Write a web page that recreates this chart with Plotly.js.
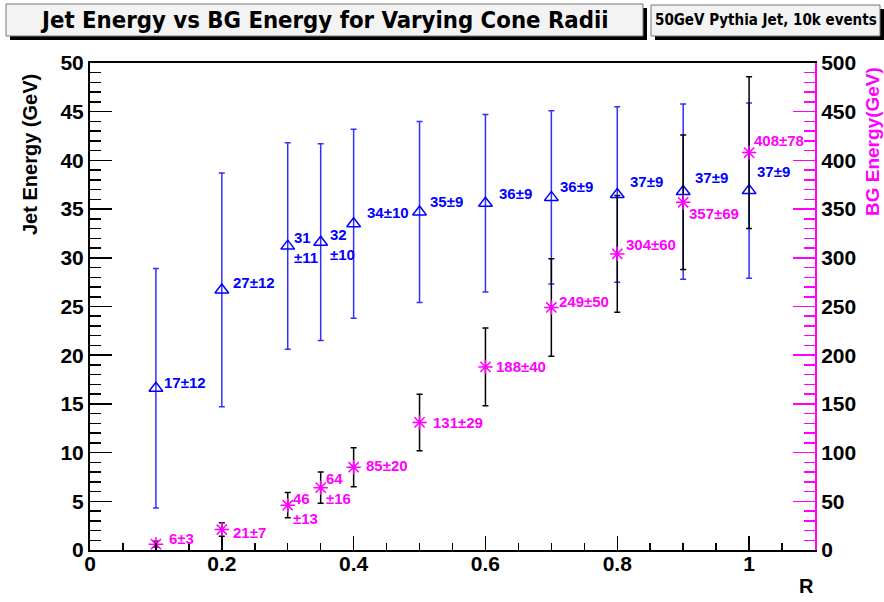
<!DOCTYPE html>
<html><head><meta charset="utf-8">
<script src="https://cdn.plot.ly/plotly-3.0.1.min.js"></script>
<style>html,body{margin:0;padding:0;background:#fff}</style>
</head><body><div id="chart" style="width:884px;height:602px"></div>
<script>
// ---- data ----
const R = [0.1, 0.2, 0.3, 0.35, 0.4, 0.5, 0.6, 0.7, 0.8, 0.9, 1.0];
const jetEnergy = [16.6, 26.7, 31.2, 31.6, 33.5, 34.7, 35.6, 36.2, 36.5, 36.8, 36.9];
const jetErr = [12.3, 12.0, 10.6, 10.1, 9.7, 9.3, 9.1, 8.9, 9.0, 9.0, 9.0];
const bgEnergy = [6, 21, 46, 64, 85, 131, 188, 249, 304, 357, 408];
const bgErr = [3, 7, 13, 16, 20, 29, 40, 50, 60, 69, 78];
const jetLabels = ["17±12", "27±12", "31<br>±11", "32<br>±10", "34±10", "35±9", "36±9", "36±9", "37±9", "37±9", "37±9"];
const bgLabels = ["6±3", "21±7", "46<br>±13", "64<br>±16", "85±20", "131±29", "188±40", "249±50", "304±60", "357±69", "408±78"];
const titleText = "Jet Energy vs BG Energy for Varying Cone Radii";
const subTitleText = "50GeV Pythia Jet, 10k events";

// ---- label offsets (px: right, down) ----
const jetOff = [[6,-6],[9,-7],[4,1],[7,2],[11,-11],[8,-11],[12,-10],[7,-11],[11,-13],[10,-14],[6,-19]];
const bgOff = [[11,-6],[9,3],[3,3],[3,1],[10,-2],[11,0],[9,0],[6,-6],[7,-9],[4,11],[3,-12]];

// ---- geometry ----
const W = 884, H = 602, ML = 90, MR = 69, MT = 63, MB = 52;
const PW = W - ML - MR, PH = H - MT - MB;
const fx = p => (p - ML) / PW;
const fy = p => (H - MB - p) / PH;

const FONT = "Liberation Sans, Arial, Helvetica, sans-serif";
const NARROW = "Liberation Sans Narrow, Arial Narrow, DejaVu Sans Condensed, sans-serif";
const BLUE = "#0000ff", MAG = "#ff00ff";

const traces = [
  {
    x: R, y: jetEnergy, type: "scatter", mode: "markers", yaxis: "y",
    marker: {symbol: "triangle-up-open", size: 12, color: BLUE, line: {width: 1.5, color: BLUE}},
    error_y: {type: "data", array: jetErr, visible: true, color: "#3030ff", thickness: 1.5, width: 3},
    hoverinfo: "skip"
  },
  {
    x: R, y: bgEnergy, type: "scatter", mode: "markers", yaxis: "y2",
    marker: {symbol: "asterisk-open", size: 12, color: MAG, line: {width: 1.5, color: MAG}},
    error_y: {type: "data", array: bgErr, visible: true, color: "#000000", thickness: 1.5, width: 3},
    hoverinfo: "skip"
  }
];

const annotations = [];
R.forEach((r, i) => {
  annotations.push({
    x: r, y: jetEnergy[i], xref: "x", yref: "y", text: "<b>" + jetLabels[i] + "</b>",
    showarrow: false, xanchor: "left", yanchor: "middle", align: "left",
    xshift: jetOff[i][0], yshift: -jetOff[i][1],
    font: {family: FONT, size: 15, color: BLUE}
  });
  annotations.push({
    x: r, y: bgEnergy[i], xref: "x", yref: "y2", text: "<b>" + bgLabels[i] + "</b>",
    showarrow: false, xanchor: "left", yanchor: "middle", align: "left",
    xshift: bgOff[i][0], yshift: -bgOff[i][1],
    font: {family: FONT, size: 15, color: MAG}
  });
});
// titles
annotations.push({xref: "paper", yref: "paper", x: fx(324), y: fy(20), showarrow: false,
  text: "<b>" + titleText + "</b>", xanchor: "center", yanchor: "middle",
  font: {family: NARROW, size: 23.7, color: "#000"}});
annotations.push({xref: "paper", yref: "paper", x: fx(766), y: fy(20), showarrow: false,
  text: "<b>" + subTitleText + "</b>", xanchor: "center", yanchor: "middle",
  font: {family: NARROW, size: 15, color: "#000"}});
annotations.push({xref: "paper", yref: "paper", x: fx(30), y: fy(155), showarrow: false,
  text: "<b>Jet Energy (GeV)</b>", textangle: -90, xanchor: "center", yanchor: "middle",
  font: {family: FONT, size: 20, color: "#000"}});
annotations.push({xref: "paper", yref: "paper", x: fx(872), y: fy(142), showarrow: false,
  text: "<b>BG Energy(GeV)</b>", textangle: -90, xanchor: "center", yanchor: "middle",
  font: {family: FONT, size: 19, color: MAG}});
annotations.push({xref: "paper", yref: "paper", x: fx(806), y: fy(586), showarrow: false,
  text: "<b>R</b>", xanchor: "center", yanchor: "middle",
  font: {family: FONT, size: 20, color: "#000"}});

const box = (x0, y0, x1, y1, fill, lineColor) => ({
  type: "rect", xref: "paper", yref: "paper", x0: fx(x0), x1: fx(x1), y0: fy(y1), y1: fy(y0),
  fillcolor: fill, line: {color: lineColor, width: lineColor ? 1 : 0}, layer: "above"
});
const shapes = [
  box(10, 8, 647, 40, "#000", null),
  box(6, 4, 643, 36, "#f3f3f3", "#777"),
  box(655, 9, 884, 40, "#000", null),
  box(651, 5, 880, 36, "#f3f3f3", "#777")
];

const tickFont = {family: FONT, size: 21, color: "#000", weight: "bold"};
const layout = {
  width: W, height: H,
  margin: {l: ML, r: MR, t: MT, b: MB, pad: 0},
  paper_bgcolor: "#fff", plot_bgcolor: "#fff",
  showlegend: false, hovermode: false,
  xaxis: {
    range: [0, 1.1], tick0: 0, dtick: 0.2, ticks: "inside", ticklen: 14, tickwidth: 1.5, tickcolor: "#000",
    showline: true, linecolor: "#000", linewidth: 2, mirror: true,
    showgrid: false, zeroline: false, tickfont: tickFont, ticklabelstandoff: -6,
    minor: {dtick: 0.05, ticks: "inside", ticklen: 7, tickwidth: 1.5, tickcolor: "#000", showgrid: false}
  },
  yaxis: {
    range: [0, 50], tick0: 0, dtick: 5, ticks: "inside", ticklen: 22, tickwidth: 1.5, tickcolor: "#000",
    showline: true, linecolor: "#000", linewidth: 2,
    showgrid: false, zeroline: false, tickfont: tickFont,
    minor: {dtick: 1, ticks: "inside", ticklen: 11, tickwidth: 1.5, tickcolor: "#000", showgrid: false}
  },
  yaxis2: {
    overlaying: "y", side: "right", anchor: "x",
    range: [0, 500], tick0: 0, dtick: 50, ticks: "inside", ticklen: 22, tickwidth: 1.5, tickcolor: MAG,
    showline: true, linecolor: MAG, linewidth: 2,
    showgrid: false, zeroline: false, tickfont: tickFont,
    minor: {dtick: 10, ticks: "inside", ticklen: 11, tickwidth: 1.5, tickcolor: MAG, showgrid: false}
  },
  annotations: annotations,
  shapes: shapes
};

Plotly.newPlot("chart", traces, layout, {displayModeBar: false, staticPlot: true});
</script>
</body></html>
